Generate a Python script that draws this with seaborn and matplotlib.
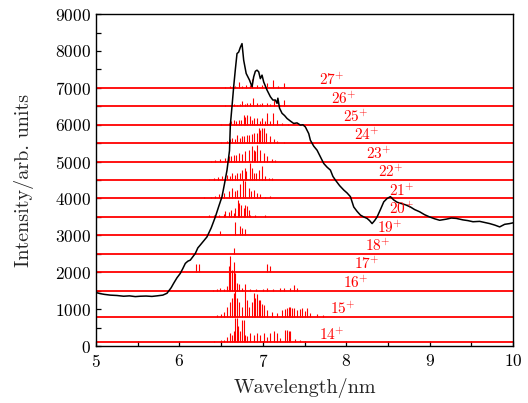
import numpy as np
import pandas as pd
import seaborn as sns
import matplotlib
matplotlib.use("Agg")
import matplotlib.pyplot as plt
from matplotlib.ticker import MultipleLocator

# ---------------- data ----------------
exp_wl = [5.00, 5.05, 5.10, 5.17, 5.25, 5.33, 5.40, 5.47, 5.53, 5.60, 5.67, 5.73, 5.80, 5.85,
          5.90, 5.93, 5.97, 6.01, 6.04, 6.07, 6.10, 6.13, 6.16, 6.19, 6.22, 6.25, 6.29, 6.33,
          6.38, 6.43, 6.47, 6.51, 6.54, 6.57, 6.60, 6.61, 6.63, 6.65, 6.67, 6.69, 6.71, 6.73,
          6.75, 6.77, 6.80, 6.82, 6.84, 6.87, 6.89, 6.91, 6.93, 6.95, 6.97, 6.99, 7.01, 7.03,
          7.05, 7.07, 7.09, 7.12, 7.15, 7.17, 7.18, 7.20, 7.23, 7.26, 7.29, 7.33, 7.37, 7.41,
          7.45, 7.48, 7.51, 7.55, 7.57, 7.61, 7.65, 7.69, 7.73, 7.77, 7.81, 7.84, 7.87, 7.92,
          7.97, 8.01, 8.05, 8.09, 8.13, 8.17, 8.21, 8.25, 8.28, 8.31, 8.34, 8.37, 8.41, 8.45,
          8.49, 8.53, 8.57, 8.61, 8.65, 8.71, 8.77, 8.82, 8.88, 8.94, 9.00, 9.06, 9.12, 9.20,
          9.26, 9.32, 9.40, 9.46, 9.52, 9.60, 9.66, 9.72, 9.78, 9.84, 9.90, 9.96, 10.00]
exp_int = [1450, 1420, 1400, 1380, 1370, 1350, 1360, 1340, 1350, 1355, 1345, 1360, 1380, 1430,
           1580, 1700, 1850, 1970, 2100, 2240, 2300, 2330, 2420, 2510, 2660, 2740, 2850, 2960,
           3200, 3500, 3780, 4050, 4400, 4770, 5300, 5990, 6500, 7030, 7500, 7930, 7970, 8100,
           8200, 7750, 7390, 7300, 7210, 7030, 7300, 7450, 7480, 7435, 7250, 7345, 7160, 7050,
           6940, 6850, 6760, 6670, 6670, 6580, 6720, 6450, 6310, 6250, 6170, 6100, 6035, 6050,
           5990, 6000, 5940, 5760, 5580, 5420, 5310, 5130, 4950, 4850, 4770, 4600, 4500, 4350,
           4230, 4150, 4050, 3770, 3650, 3550, 3500, 3460, 3400, 3320, 3400, 3500, 3700, 3910,
           4000, 4050, 3960, 3900, 3870, 3830, 3770, 3700, 3640, 3560, 3500, 3450, 3410, 3440,
           3470, 3460, 3420, 3400, 3370, 3380, 3350, 3320, 3280, 3230, 3300, 3320, 3340]

charges = [14, 15, 16, 17, 18, 19, 20, 21, 22, 23, 24, 25, 26, 27]
offsets = [100, 800, 1500, 2000, 2500, 3000, 3500, 4000, 4500, 5000, 5500, 6000, 6500, 7000]
label_x = [7.83, 7.96, 8.11, 8.25, 8.38, 8.52, 8.67, 8.67, 8.54, 8.39, 8.25, 8.11, 7.97, 7.83]

ion14_wl = [6.42, 6.50, 6.53, 6.57, 6.61, 6.63, 6.65, 6.67, 6.69, 6.70, 6.72, 6.75, 6.77, 6.79,
            6.81, 6.85, 6.89, 6.93, 6.97, 7.01, 7.05, 7.09, 7.13, 7.17, 7.21, 7.27, 7.29, 7.31,
            7.33, 7.39, 7.45, 7.50]
ion14_amp = [30, 50, 70, 150, 250, 200, 300, 660, 650, 430, 300, 615, 615, 200, 160, 250, 200,
             250, 200, 250, 150, 250, 300, 250, 120, 340, 340, 300, 320, 100, 60, 30]
ion15_wl = [6.45, 6.50, 6.53, 6.57, 6.61, 6.63, 6.65, 6.67, 6.69, 6.71, 6.75, 6.79, 6.81, 6.83,
            6.87, 6.89, 6.91, 6.93, 6.95, 6.97, 6.99, 7.01, 7.05, 7.11, 7.17, 7.23, 7.27, 7.29,
            7.31, 7.33, 7.35, 7.37, 7.41, 7.45, 7.47, 7.51, 7.53, 7.57, 7.65, 7.72]
ion15_amp = [30, 70, 135, 270, 400, 500, 630, 720, 500, 400, 270, 680, 450, 270, 400, 630, 500,
             600, 450, 450, 350, 315, 180, 135, 90, 180, 200, 225, 250, 270, 240, 225, 180, 200,
             225, 150, 225, 90, 70, 35]
ion16_wl = [6.40, 6.45, 6.49, 6.53, 6.57, 6.59, 6.61, 6.63, 6.65, 6.67, 6.69, 6.71, 6.75, 6.79,
            6.85, 6.92, 7.00, 7.05, 7.12, 7.21, 7.25, 7.33, 7.37, 7.41]
ion16_amp = [30, 50, 80, 50, 130, 670, 940, 570, 775, 490, 220, 170, 80, 170, 40, 50, 40, 80,
             50, 80, 60, 60, 150, 80]
ion17_wl = [6.20, 6.23, 7.05, 7.08]
ion17_amp = [220, 235, 220, 170]
ion18_wl = [6.65]
ion18_amp = [160]
ion19_wl = [6.48, 6.67, 6.72, 6.75, 6.78]
ion19_amp = [120, 370, 250, 210, 180]
ion20_wl = [6.35, 6.41, 6.47, 6.53, 6.55, 6.59, 6.62, 6.65, 6.67, 6.70, 6.71, 6.74, 6.77, 6.79,
            6.81, 6.83, 6.85, 6.91, 7.03]
ion20_amp = [40, 40, 50, 90, 150, 130, 180, 110, 245, 470, 380, 330, 245, 330, 290, 180, 60,
             40, 40]
ion21_wl = [6.30, 6.38, 6.43, 6.47, 6.53, 6.59, 6.63, 6.66, 6.69, 6.73, 6.76, 6.79, 6.83, 6.86,
            6.89, 6.93, 6.97, 7.03, 7.09]
ion21_amp = [30, 40, 60, 110, 150, 200, 290, 200, 240, 380, 515, 470, 290, 200, 240, 150, 110,
             50, 60]
ion22_wl = [6.36, 6.41, 6.46, 6.51, 6.57, 6.60, 6.63, 6.66, 6.69, 6.72, 6.75, 6.78, 6.80, 6.84,
            6.87, 6.89, 6.92, 6.95, 6.99, 7.03, 7.07, 7.11]
ion22_amp = [30, 55, 70, 100, 145, 120, 190, 150, 190, 200, 280, 325, 235, 460, 325, 190, 200,
             280, 370, 100, 60, 55]
ion23_wl = [6.38, 6.43, 6.49, 6.54, 6.59, 6.62, 6.65, 6.68, 6.71, 6.75, 6.79, 6.83, 6.87, 6.89,
            6.91, 6.93, 6.97, 7.01, 7.05, 7.11, 7.15]
ion23_amp = [30, 55, 60, 90, 145, 150, 190, 180, 235, 200, 280, 325, 415, 325, 300, 460, 325,
             235, 145, 70, 40]
ion24_wl = [6.50, 6.57, 6.60, 6.63, 6.66, 6.69, 6.72, 6.75, 6.77, 6.81, 6.83, 6.87, 6.89, 6.93,
            6.95, 6.97, 6.99, 7.01, 7.04, 7.09, 7.13, 7.17, 7.25]
ion24_amp = [30, 55, 100, 145, 120, 235, 150, 200, 190, 235, 235, 250, 280, 280, 400, 370, 400,
             420, 280, 190, 100, 55, 30]
ion25_wl = [6.50, 6.59, 6.62, 6.65, 6.68, 6.71, 6.74, 6.77, 6.79, 6.81, 6.84, 6.87, 6.89, 6.93,
            6.96, 6.99, 7.02, 7.05, 7.08, 7.12, 7.17, 7.23, 7.30]
ion25_amp = [30, 45, 90, 135, 100, 135, 120, 270, 200, 270, 225, 120, 180, 180, 100, 180, 100,
             315, 100, 315, 135, 60, 30]
ion26_wl = [6.55, 6.61, 6.65, 6.69, 6.72, 6.75, 6.78, 6.81, 6.85, 6.88, 6.93, 6.96, 6.99, 7.05,
            7.09, 7.13, 7.20, 7.25]
ion26_amp = [30, 45, 60, 45, 60, 135, 70, 90, 100, 225, 90, 60, 90, 100, 60, 180, 40, 160]
ion27_wl = [6.55, 6.61, 6.64, 6.67, 6.71, 6.75, 6.80, 6.84, 6.87, 6.93, 6.99, 7.05, 7.12, 7.18,
            7.25]
ion27_amp = [30, 55, 40, 55, 170, 60, 80, 70, 235, 80, 80, 125, 215, 40, 145]

ion_wl = [ion14_wl, ion15_wl, ion16_wl, ion17_wl, ion18_wl, ion19_wl, ion20_wl,
          ion21_wl, ion22_wl, ion23_wl, ion24_wl, ion25_wl, ion26_wl, ion27_wl]
ion_amp = [ion14_amp, ion15_amp, ion16_amp, ion17_amp, ion18_amp, ion19_amp, ion20_amp,
           ion21_amp, ion22_amp, ion23_amp, ion24_amp, ion25_amp, ion26_amp, ion27_amp]

# ---------------- style ----------------
sns.set_style("ticks")
plt.rcParams.update({
    "font.family": "serif",
    "font.serif": ["cmr10", "DejaVu Serif"],
    "mathtext.fontset": "cm",
    "axes.formatter.use_mathtext": True,
    "axes.edgecolor": "black",
    "axes.linewidth": 1.0,
    "xtick.direction": "in",
    "ytick.direction": "in",
    "xtick.color": "black",
    "ytick.color": "black",
    "font.size": 12,
})

fig, ax = plt.subplots(figsize=(5.28, 4.03), dpi=100)
fig.subplots_adjust(left=0.182, right=0.9716, top=0.965, bottom=0.1414)

red = "#ff0000"
for q, off, lx, wl, amp in zip(charges, offsets, label_x, ion_wl, ion_amp):
    ax.axhline(off, color=red, lw=1.3, zorder=1)
    ax.vlines(wl, off, np.asarray(amp) + off, color=red, lw=0.8, zorder=2)
    ax.text(lx, off + 75, f"{q}$^{{+}}$", color=red, fontsize=11,
            ha="center", va="baseline", zorder=4)

df = pd.DataFrame({"Wavelength": exp_wl, "Intensity": exp_int})
sns.lineplot(data=df, x="Wavelength", y="Intensity", color="black", lw=1.1,
             ax=ax, zorder=3, estimator=None, sort=False)

ax.set_xlim(5, 10)
ax.set_ylim(0, 9000)
ax.xaxis.set_major_locator(MultipleLocator(1))
ax.xaxis.set_minor_locator(MultipleLocator(0.5))
ax.yaxis.set_major_locator(MultipleLocator(1000))
ax.yaxis.set_minor_locator(MultipleLocator(500))
ax.tick_params(which="both", length=3.5, width=0.9, labelsize=12.5)
ax.tick_params(axis="x", pad=5)
ax.set_xlabel("Wavelength/nm", fontsize=14.5, labelpad=6)
ax.set_ylabel("Intensity/arb. units", fontsize=14.5, labelpad=15)
for s in ax.spines.values():
    s.set_visible(True)

fig.savefig("out.png", dpi=100)
